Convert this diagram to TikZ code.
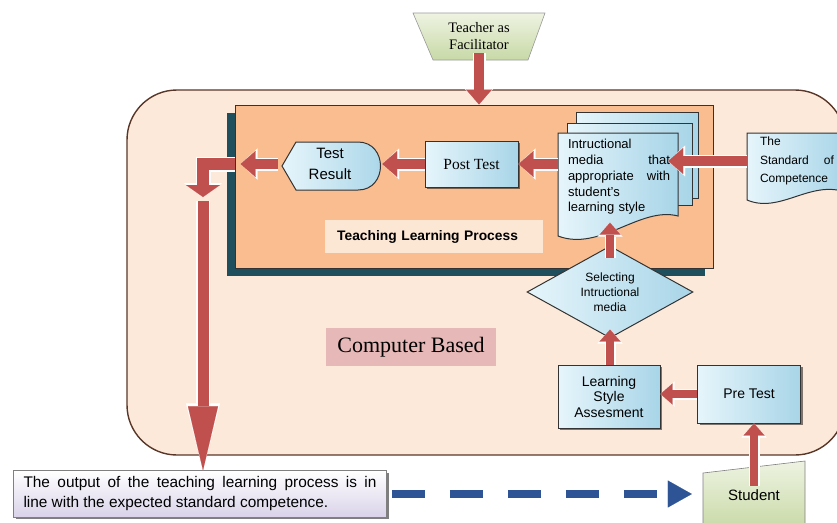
\documentclass[tikz,border=0pt]{standalone}
\usepackage{fontspec}
\setmainfont{Liberation Sans}
\newfontfamily\timesfont{Liberation Serif}
\usetikzlibrary{arrows.meta,shapes.geometric,shadows}

\definecolor{cbfill}{RGB}{253,233,218}
\definecolor{cbline}{RGB}{89,55,40}
\definecolor{tlpfill}{RGB}{249,189,143}
\definecolor{tlpshade}{RGB}{31,78,92}
\definecolor{tlplabel}{RGB}{252,230,212}
\definecolor{arrred}{RGB}{192,80,77}
\definecolor{blueA}{RGB}{230,245,251}
\definecolor{blueB}{RGB}{168,213,232}
\definecolor{greenA}{RGB}{238,243,226}
\definecolor{greenB}{RGB}{200,217,166}
\definecolor{pinkbox}{RGB}{230,184,183}
\definecolor{lavB}{RGB}{217,210,233}
\definecolor{dashblue}{RGB}{46,84,150}

\tikzset{
  bluebox/.style={draw=black!80, line width=1pt, left color=blueA, right color=blueB},
  boxshadow/.style={drop shadow={shadow xshift=2pt, shadow yshift=-2pt, opacity=.5, fill=black}},
  bigarrow/.style={draw=arrred, line width=10pt, -{Triangle[width=26pt,length=15pt,line width=.1pt]},
    preaction={draw=white, line width=13pt, -{Triangle[width=31pt,length=17pt,line width=.1pt]}}},
  midarrow/.style={draw=arrred, line width=8pt, -{Triangle[width=21pt,length=12pt,line width=.1pt]},
    preaction={draw=white, line width=11pt, -{Triangle[width=25pt,length=14pt,line width=.1pt]}}},
  elbarrow/.style={draw=arrred, line width=12pt, line join=miter, -{Triangle[width=34pt,length=12pt,line width=.1pt]},
    preaction={draw=white, line width=15pt, line join=miter, -{Triangle[width=38pt,length=14pt,line width=.1pt]}}},
  longarrow/.style={draw=arrred, line width=11pt, -{Triangle[width=30pt,length=64pt,line width=.1pt]},
    preaction={draw=white, line width=14pt, -{Triangle[width=34pt,length=67pt,line width=.1pt]}}},
}

\begin{document}
\begin{tikzpicture}[x=1pt,y=-1pt]
\clip (0,0) rectangle (837,522);
% computer based area
\node[draw=cbline, line width=1.4pt, fill=cbfill, rounded corners=50pt, minimum width=718pt, minimum height=365pt, inner sep=0pt] (cb) at (486,272.5) {};
\node[fill=pinkbox, minimum width=170pt, minimum height=38pt, font=\timesfont\fontsize{22}{26}\selectfont] (cblabel) at (411,347) {Computer Based};
% teaching learning process
\node[draw=black!80, line width=1pt, fill=tlpfill, minimum width=478pt, minimum height=163pt,
  drop shadow={shadow xshift=-8pt, shadow yshift=-8pt, opacity=1, fill=tlpshade}] (tlp) at (474,186.5) {};
\node[fill=tlplabel, anchor=west, minimum height=33pt, text width=194pt, inner xsep=12pt,
  font=\bfseries\fontsize{13.8}{16}\selectfont] (tlplabel) at (325,236.5) {Teaching Learning Process};
% document stack
\draw[bluebox] (576,112) rectangle (698,198);
\draw[bluebox] (567,123) rectangle (692,205);
\draw[bluebox] (558,133) -- (678,133) -- (678,216) .. controls (640,206) and (600,252) .. (558,236) -- cycle;
\node[text width=102pt, inner xsep=10pt, inner ysep=8pt, align=left, font=\fontsize{13}{15.7}\selectfont] (doc) at (619,177)
  {Intructional\\media\hfill that\\appropriate\hfill with\\student’s\\learning style};
% standard of competence
\draw[bluebox] (747,133) -- (845,133) -- (845,192) .. controls (810,180) and (780,214) .. (747,200) -- cycle;
\node[text width=74pt, inner xsep=13pt, align=left, font=\fontsize{12}{18.5}\selectfont] (std) at (797,161)
  {The\\Standard\hfill of\\Competence};
% test result
\draw[bluebox] (282,166) -- (296,142) -- (358,142) .. controls (388,142) and (388,190) .. (358,190) -- (296,190) -- cycle;
\node[minimum width=104pt, align=center, font=\fontsize{15}{20.5}\selectfont] (res) at (330,164) {Test\\Result};
\node[bluebox, boxshadow, minimum width=93pt, minimum height=46pt, font=\timesfont\fontsize{15.5}{18}\selectfont] (post) at (471.5,164) {Post Test};
% selection and tests
\node[diamond, bluebox, minimum width=166pt, minimum height=92pt, aspect=1.8, inner sep=0pt, align=center,
  font=\fontsize{12}{15}\selectfont] (sel) at (610,292) {Selecting\\Intructional\\media};
\node[bluebox, boxshadow, minimum width=102pt, minimum height=63pt, align=center, font=\fontsize{14}{15.5}\selectfont] (lsa) at (609,396.5)
  {Learning\\Style\\Assesment};
\node[bluebox, boxshadow, minimum width=103pt, minimum height=58pt, font=\fontsize{14}{17}\selectfont] (pre) at (749,394) {Pre Test};
% student and teacher
\draw[draw=black!50, line width=.6pt, top color=greenA, bottom color=greenB] (703,473) -- (805,461) -- (805,530) -- (703,530) -- cycle;
\node[minimum width=102pt, font=\fontsize{15}{18}\selectfont] (stu) at (754,495) {Student};
\draw[draw=black!40, line width=.6pt, top color=greenA, bottom color=greenB] (413,13) -- (545,13) -- (528,60) -- (433,60) -- cycle;
\node[align=center, font=\timesfont\fontsize{14.5}{17}\selectfont] (teach) at (479,36) {Teacher as\\Facilitator};
% output
\node[draw=black!50, line width=.8pt, top color=white, bottom color=lavB, text width=353pt, inner xsep=10pt, inner ysep=6pt,
  align=justify, font=\fontsize{15.4}{20}\selectfont, boxshadow] (out) at (200,494)
  {The output of the teaching learning process is in\linebreak line with the expected standard competence.};
% arrows
\coordinate (elb) at (203,197);
\coordinate (turn) at (203,201);
\draw[bigarrow] (teach.south) -- (teach.south |- tlp.north);
\draw[bigarrow, shorten >=-12pt] (std.west) -- (std.west -| doc.east);
\draw[bigarrow] (post.east -| doc.west) -- (post.east);
\draw[bigarrow] (post.west) -- (post.west -| res.east);
\draw[bigarrow, shorten >=6pt] (res.west) -- (res.west -| tlp.west);
\draw[elbarrow] (res.west -| tlp.west) -| (elb);
\draw[longarrow] (turn) -- (turn |- out.north);
\draw[midarrow, shorten <=-12pt] (sel.north) -- (sel.north |- doc.south);
\draw[midarrow, shorten >=-9pt] (lsa.north -| sel.south) -- (sel.south);
\draw[midarrow] (pre.west) -- (pre.west -| lsa.east);
\draw[midarrow] (stu.north) -- (stu.north |- pre.south);
\draw[dashblue, line width=8pt, dash pattern=on 33pt off 25pt, -{Triangle[width=27pt,length=24pt,line width=.1pt]},
  shorten <=5pt, shorten >=11pt] (out.east) -- (out.east -| stu.west);
\end{tikzpicture}
\end{document}
